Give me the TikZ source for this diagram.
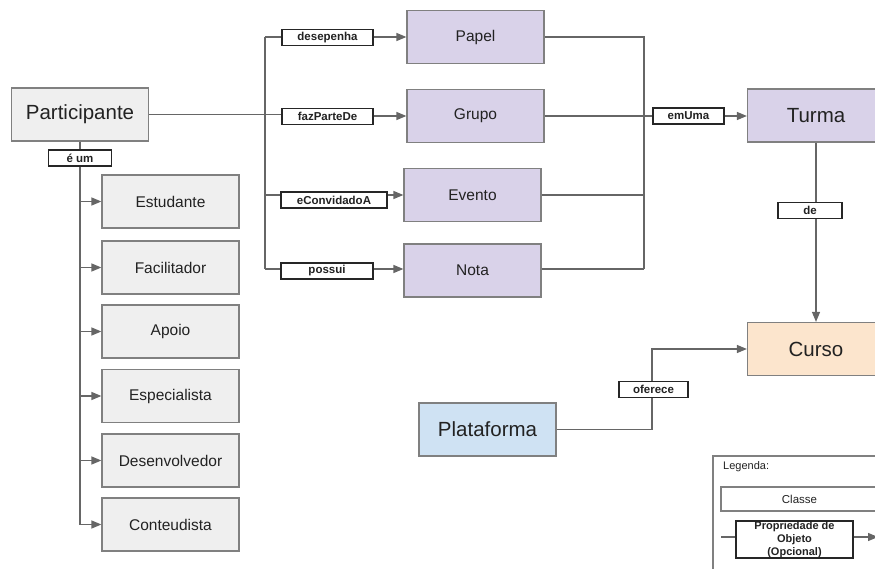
\documentclass[tikz,border=0pt]{standalone}
\usepackage{fontspec}
\setmainfont{Liberation Sans}
\usetikzlibrary{arrows.meta}
\definecolor{boxgray}{HTML}{EFEFEF}
\definecolor{boxpurple}{HTML}{D9D2E9}
\definecolor{boxpeach}{HTML}{FCE5CD}
\definecolor{boxblue}{HTML}{CFE2F3}
\definecolor{edgegray}{HTML}{808080}
\definecolor{linegray}{HTML}{666666}
\definecolor{txt}{HTML}{222222}
\tikzset{
  cls/.style={draw=edgegray, line width=1.2pt, inner sep=0pt, text=txt,
    minimum width=137pt, minimum height=53pt},
  big/.style={cls, font=\fontsize{20.5}{24}\selectfont},
  mid/.style={cls, font=\fontsize{15.5}{18}\selectfont},
  prop/.style={draw=black!85, line width=1.3pt, fill=white, inner sep=0pt,
    minimum height=16pt, text=txt, font=\bfseries\fontsize{11.5}{13}\selectfont},
  conn/.style={draw=linegray, line width=1.3pt},
  arr/.style={conn, -{Triangle[length=10pt,width=8pt]}},
}
\begin{document}
\begin{tikzpicture}[x=1pt, y=-1pt]
\useasboundingbox (0,0) rectangle (875,569);

% main class
\node[big, fill=boxgray] (part) at (80,114.5) {Participante};
\node[prop, minimum width=63pt] (eum) at (80,158) {é um};

% subclasses
\node[mid, fill=boxgray] (est) at (170.5,201.5) {Estudante};
\node[mid, fill=boxgray] (fac) at (170.5,267.5) {Facilitador};
\node[mid, fill=boxgray] (apo) at (170.5,331.5) {Apoio};
\node[mid, fill=boxgray] (esp) at (170.5,396) {Especialista};
\node[mid, fill=boxgray] (des) at (170.5,460.5) {Desenvolvedor};
\node[mid, fill=boxgray] (con) at (170.5,524.5) {Conteudista};

% related classes
\node[mid, fill=boxpurple] (papel) at (475.5,37) {Papel};
\node[mid, fill=boxpurple] (grupo) at (475.5,116) {Grupo};
\node[mid, fill=boxpurple] (evento) at (472.5,195) {Evento};
\node[mid, fill=boxpurple] (nota) at (472.5,270.5) {Nota};
\node[big, fill=boxpurple] (turma) at (816,115.5) {Turma};
\node[big, fill=boxpeach] (curso) at (816,349) {Curso};
\node[big, fill=boxblue] (plat) at (487.5,429.5) {Plataforma};

% properties
\node[prop, minimum width=91pt] (pDes) at (327.5,37.5) {desepenha};
\node[prop, minimum width=91pt] (pFaz) at (327.5,116.5) {fazParteDe};
\node[prop, minimum width=106pt] (pCon) at (334,200) {eConvidadoA};
\node[prop, minimum width=92pt] (pPos) at (327,271) {possui};
\node[prop, minimum width=71pt] (pEm) at (688.5,116) {emUma};
\node[prop, minimum width=64pt] (pDe) at (810,210.5) {de};
\node[prop, minimum width=69pt] (pOf) at (653.5,389.5) {oferece};

% junction points
\coordinate (jL1) at (265,37);
\coordinate (jL2) at (265,114.5);
\coordinate (jL3) at (265,195);
\coordinate (jL4) at (265,269);
\coordinate (jR1) at (644,37);
\coordinate (jR2) at (644,116);
\coordinate (jR3) at (644,195);
\coordinate (jR4) at (644,269);
\coordinate (eumEnd) at (80,524.5);
\coordinate (ofBot) at (652,429.5);
\coordinate (ofTop) at (652,349);

% is-a hierarchy
\draw[conn] (part.south) -- (eum.north);
\draw[conn] (eum.south) -- (eumEnd);
\foreach \c in {est,fac,apo,esp,des,con}
  \draw[arr] (eum.south |- \c.west) -- (\c.west);

% left bus
\draw[conn] (part.east) -- (jL2);
\draw[conn] (jL1) -- (jL4);
\draw[conn] (jL1) -- (jL1 -| pDes.west);
\draw[arr] (pDes.east |- papel.west) -- (papel.west);
\draw[conn] (jL2) -- (jL2 -| pFaz.west);
\draw[arr] (pFaz.east |- grupo.west) -- (grupo.west);
\draw[conn] (jL3) -- (jL3 -| pCon.west);
\draw[arr] (pCon.east |- evento.west) -- (evento.west);
\draw[conn] (jL4) -- (jL4 -| pPos.west);
\draw[arr] (pPos.east |- jL4) -- (jL4 -| nota.west);

% right bus
\draw[conn] (papel.east) -- (jR1) -- (jR4);
\draw[conn] (grupo.east) -- (jR2);
\draw[conn] (evento.east) -- (jR3);
\draw[conn] (nota.east |- jR4) -- (jR4);
\draw[conn] (jR2) -- (pEm.west);
\draw[arr] (pEm.east) -- (turma.west |- pEm.east);

% Turma to Curso
\draw[conn] (turma.south) -- (turma.south |- pDe.north);
\draw[arr] (turma.south |- pDe.south) -- (curso.north);

% Plataforma to Curso
\draw[conn] (plat.east) -- (ofBot) -- (ofBot |- pOf.south);
\draw[arr] (ofTop |- pOf.north) -- (ofTop) -- (curso.west);

% legend
\draw[edgegray, line width=1.2pt] (713,456) rectangle (900,600);
\node[anchor=west, inner sep=0pt, text=txt, font=\fontsize{11}{13}\selectfont]
  (legTitle) at (723,467) {Legenda:};
\node[draw=edgegray, line width=1.2pt, inner sep=0pt, text=txt,
  font=\fontsize{11.5}{13}\selectfont, minimum height=24pt, minimum width=157pt]
  (legCls) at (799.5,499) {Classe};
\node[draw=black!85, line width=1.3pt, fill=white, inner sep=0pt, text=txt,
  minimum width=117pt, minimum height=37pt]
  (legProp) at (794.5,539.5) {};
\node[inner sep=0pt, text=txt, align=center,
  font=\bfseries\fontsize{11}{12.8}\selectfont]
  (legPropText) at (legProp.center) {Propriedade de\\Objeto\\(Opcional)};
\coordinate (legIn) at (721,537);
\coordinate (legOut) at (878,537);
\draw[conn] (legIn) -- (legIn -| legProp.west);
\draw[arr] (legProp.east |- legOut) -- (legOut);
\end{tikzpicture}
\end{document}
